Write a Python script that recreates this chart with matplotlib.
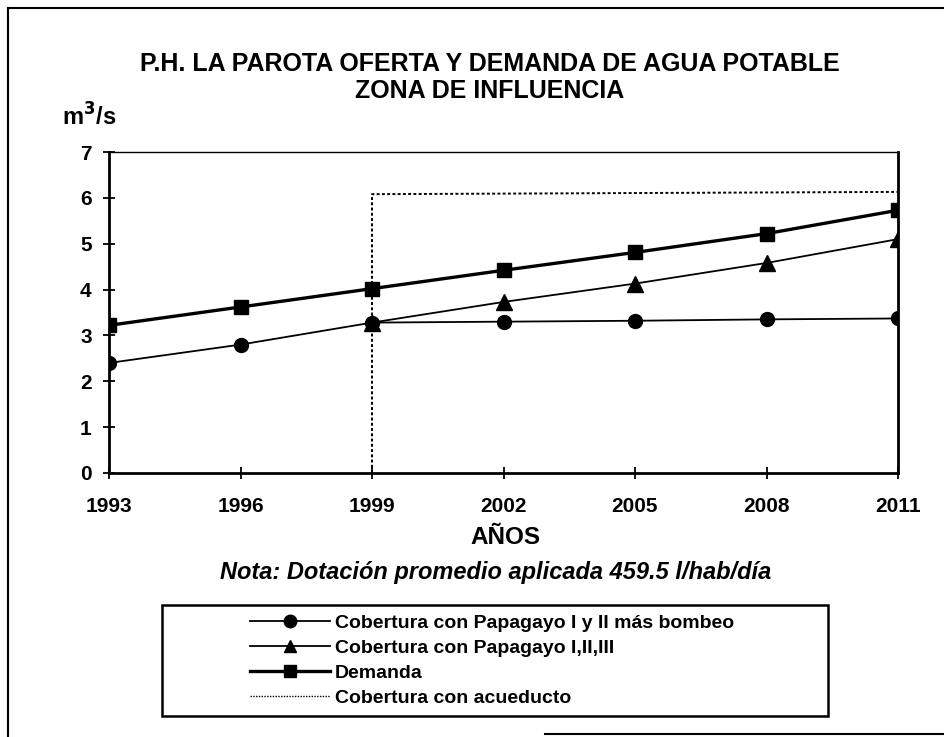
import matplotlib.pyplot as plt
from matplotlib.lines import Line2D
from matplotlib.patches import Rectangle

#========================================================================
# datos
#========================================================================
anios = [1993, 1996, 1999, 2002, 2005, 2008, 2011]
papagayo_I_II = [2.40, 2.80, 3.28, 3.30, 3.32, 3.35, 3.37]
anios_III = [1999, 2002, 2005, 2008, 2011]
papagayo_I_II_III = [3.28, 3.73, 4.13, 4.58, 5.10]
demanda = [3.22, 3.62, 4.02, 4.42, 4.81, 5.22, 5.73]
anios_acued = [1999, 1999, 2011]
acueducto = [0.0, 6.08, 6.13]

nombres = ['Cobertura con Papagayo I y II más bombeo',
           'Cobertura con Papagayo I,II,III',
           'Demanda',
           'Cobertura con acueducto']

plt.rcParams['font.family'] = ['Liberation Sans', 'DejaVu Sans']

fig = plt.figure(figsize=(9.45, 7.37), dpi=100)
W, H = 945.0, 737.0
ax = fig.add_axes([109/W, 1-473/H, (898-109)/W, (473-152)/H])

ax.plot(anios, papagayo_I_II, color='black', linewidth=1.3, marker='o', markersize=10)
ax.plot(anios_III, papagayo_I_II_III, color='black', linewidth=1.3, marker='^', markersize=11)
ax.plot(anios, demanda, color='black', linewidth=2.4, marker='s', markersize=10)
ax.plot(anios_acued, acueducto, color='black', linewidth=1.4, linestyle=(0, (1.5, 1.2)))

ax.set_xlim(1993, 2011)
ax.set_ylim(0, 7)
ax.set_xticks(anios)
ax.set_yticks(range(0, 8))
ax.tick_params(direction='inout', length=9, width=1.3, labelsize=15)
ax.tick_params(axis='x', pad=13)
ax.tick_params(axis='y', pad=8)
for lab in ax.get_xticklabels() + ax.get_yticklabels():
    lab.set_fontweight('bold')
ax.spines['left'].set_linewidth(2.0)
ax.spines['bottom'].set_linewidth(2.0)
ax.spines['right'].set_linewidth(2.0)
ax.spines['top'].set_linewidth(1.0)

# textos
fig.text(490/W, 1-64/H, 'P.H. LA PAROTA OFERTA Y DEMANDA DE AGUA POTABLE',
         ha='center', va='center', fontsize=18, fontweight='bold')
fig.text(490/W, 1-91/H, 'ZONA DE INFLUENCIA',
         ha='center', va='center', fontsize=18, fontweight='bold')
fig.text(62/W, 1-117/H, 'm$^\\mathbf{3}$/s', ha='left', va='center', fontsize=17, fontweight='bold')
fig.text(505/W, 1-538/H, 'AÑOS', ha='center', va='center', fontsize=17.5, fontweight='bold')
fig.text(496/W, 1-572/H, 'Nota: Dotación promedio aplicada 459.5 l/hab/día',
         ha='center', va='center', fontsize=17, fontstyle='italic', fontweight='bold')

# leyenda
handles = [Line2D([], [], color='black', linewidth=1.3, marker='o', markersize=9),
           Line2D([], [], color='black', linewidth=1.3, marker='^', markersize=9),
           Line2D([], [], color='black', linewidth=2.4, marker='s', markersize=9),
           Line2D([], [], color='black', linewidth=1.0, linestyle=(0, (1, 1)))]
fig.legend(handles, nombres, loc='upper left', bbox_to_anchor=(250/W, 1-614/H),
           frameon=False, prop={'size': 14, 'weight': 'bold'}, handlelength=4.1,
           handletextpad=0.26, labelspacing=0.39, borderpad=0, borderaxespad=0)
fig.add_artist(Rectangle((162/W, 1-716/H), (828-162)/W, (716-605)/H,
                         transform=fig.transFigure, fill=False, edgecolor='black', linewidth=1.8))

# marco exterior
fig.add_artist(Line2D([8/W, 8/W], [0, 1-8/H], transform=fig.transFigure, color='black', linewidth=1.5))
fig.add_artist(Line2D([8/W, 1], [1-8/H, 1-8/H], transform=fig.transFigure, color='black', linewidth=1.5))
fig.add_artist(Line2D([545/W, 1], [1-734/H, 1-734/H], transform=fig.transFigure, color='black', linewidth=1.5))

plt.savefig('out.png', dpi=100)
